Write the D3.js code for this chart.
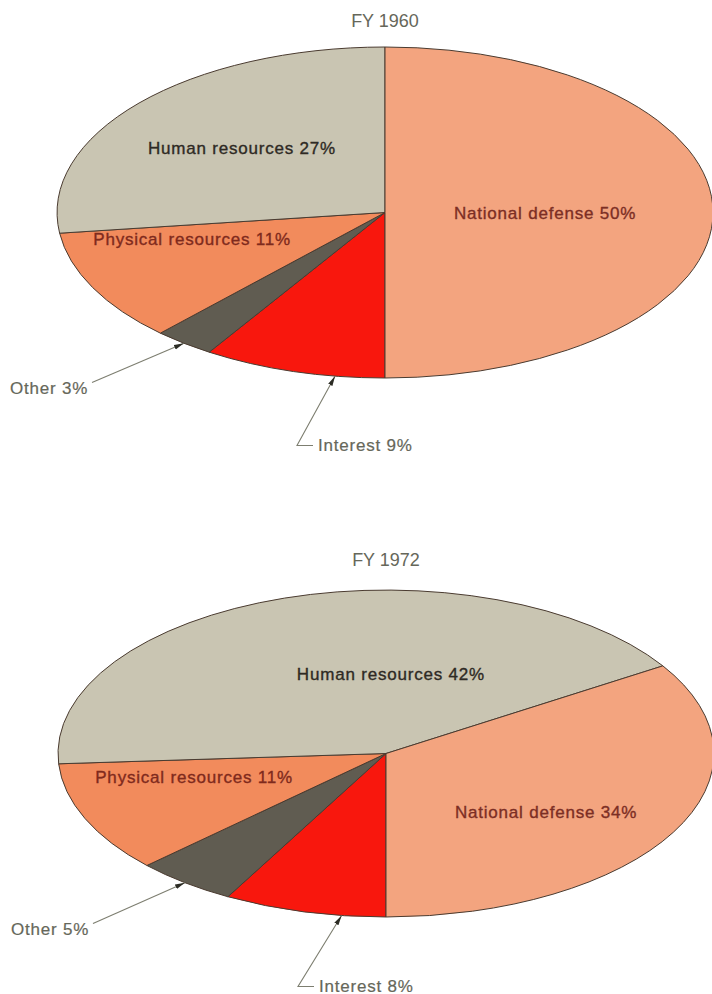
<!DOCTYPE html>
<html>
<head>
<meta charset="utf-8">
<script src="https://cdn.jsdelivr.net/npm/d3@7"></script>
<style>
  html, body { margin: 0; padding: 0; background: #ffffff; }
  svg { display: block; }
</style>
</head>
<body>
<script>
// Federal budget outlays by function, share of total (%),
// listed clockwise starting from the bottom of each pie
const categories = ["Interest", "Other", "Physical resources", "Human resources", "National defense"];
const years = ["FY 1960", "FY 1972"];
const shares1960 = [9, 3, 11, 27, 50];
const shares1972 = [8, 5, 11, 42, 34];

const W = 712, H = 994;
const fills = {
  "National defense": "#f3a47f",
  "Interest": "#f8170d",
  "Other": "#605c51",
  "Physical resources": "#f28b5c",
  "Human resources": "#c9c5b2"
};
const insideInk = {
  "National defense": "#7c2e24",
  "Physical resources": "#7f2a1c",
  "Human resources": "#2e2a24"
};

// Ellipse frames for the two pies
const frames = [
  { cx: 385, cy: 212.5, rx: 328, ry: 165.5, titleY: 27,
    inside: { "Human resources": [-0.436, -0.353], "National defense": [0.488, 0.039], "Physical resources": [-0.588, 0.196] } },
  { cx: 386, cy: 753.5, rx: 328, ry: 163.5, titleY: 566,
    inside: { "Human resources": [0.015, -0.45], "National defense": [0.488, 0.394], "Physical resources": [-0.585, 0.18] } }
];
const seriesList = [shares1960, shares1972];

const svg = d3.select("body").append("svg").attr("width", W).attr("height", H);

const defs = svg.append("defs");
defs.append("marker")
  .attr("id", "tip")
  .attr("viewBox", "0 0 10 6")
  .attr("refX", 10).attr("refY", 3)
  .attr("markerWidth", 10).attr("markerHeight", 6)
  .attr("markerUnits", "userSpaceOnUse")
  .attr("orient", "auto")
  .append("path").attr("d", "M0,0.6 L10,3 L0,5.4 Z").attr("fill", "#2c2c24");

// Slices run clockwise from the bottom (6 o'clock) all the way round
const pie = d3.pie().sort(null).value(d => d.value).startAngle(Math.PI).endAngle(3 * Math.PI);
const arc = d3.arc().innerRadius(0).outerRadius(1);

const font = "'Liberation Sans', Arial, Helvetica, sans-serif";
const outerInk = "#66675a";

seriesList.forEach((vals, i) => {
  const f = frames[i];
  const rows = categories.map((c, k) => ({ name: c, value: vals[k] }));
  const arcs = pie(rows);

  // title
  svg.append("text")
    .attr("x", f.cx).attr("y", f.titleY)
    .attr("text-anchor", "middle")
    .attr("font-family", font).attr("font-size", 18)
    .attr("fill", outerInk)
    .text(years[i]);

  // slices, drawn on a unit circle stretched into the ellipse
  const g = svg.append("g").attr("transform", `translate(${f.cx},${f.cy}) scale(${f.rx},${f.ry})`);
  g.selectAll("path.slice").data(arcs).join("path")
    .attr("class", "slice")
    .attr("d", arc)
    .attr("fill", d => fills[d.data.name])
    .attr("stroke", "#4a3b30")
    .attr("stroke-width", 1)
    .attr("stroke-linejoin", "round")
    .attr("vector-effect", "non-scaling-stroke");

  // labels inside the large slices
  Object.entries(f.inside).forEach(([name, [u, v]]) => {
    const d = arcs.find(a => a.data.name === name);
    svg.append("text")
      .attr("x", f.cx + u * f.rx).attr("y", f.cy + v * f.ry)
      .attr("text-anchor", "middle")
      .attr("font-family", font).attr("font-size", 17)
      .attr("letter-spacing", 0.8)
      .attr("fill", insideInk[name])
      .attr("stroke", insideInk[name]).attr("stroke-width", 0.35)
      .text(`${name} ${d.data.value}%`);
  });

  // point on the ellipse rim at a given pie angle
  const rim = a => [f.cx + f.rx * Math.sin(a), f.cy - f.ry * Math.cos(a)];

  // "Other" — callout from the left
  const other = arcs.find(a => a.data.name === "Other");
  const oTip = rim((other.startAngle + other.endAngle) / 2);
  svg.append("path")
    .attr("d", d3.line()([[f.cx - 293, f.cy + 170], oTip]))
    .attr("fill", "none").attr("stroke", "#7d7e70").attr("stroke-width", 1.1)
    .attr("marker-end", "url(#tip)");
  svg.append("text")
    .attr("x", f.cx - 375).attr("y", f.cy + 181.5)
    .attr("font-family", font).attr("font-size", 17)
    .attr("letter-spacing", 0.8)
    .attr("fill", outerInk)
    .attr("stroke", outerInk).attr("stroke-width", 0.2)
    .text(`Other ${other.data.value}%`);

  // "Interest" — elbow callout from below
  const intr = arcs.find(a => a.data.name === "Interest");
  const iTip = rim(intr.startAngle + 0.27 * (intr.endAngle - intr.startAngle));
  svg.append("path")
    .attr("d", d3.line()([[f.cx - 72, f.cy + 233], [f.cx - 88, f.cy + 233], iTip]))
    .attr("fill", "none").attr("stroke", "#7d7e70").attr("stroke-width", 1.1)
    .attr("marker-end", "url(#tip)");
  svg.append("text")
    .attr("x", f.cx - 67).attr("y", f.cy + 238)
    .attr("font-family", font).attr("font-size", 17)
    .attr("letter-spacing", 0.8)
    .attr("fill", outerInk)
    .attr("stroke", outerInk).attr("stroke-width", 0.2)
    .text(`Interest ${intr.data.value}%`);
});
</script>
</body>
</html>
